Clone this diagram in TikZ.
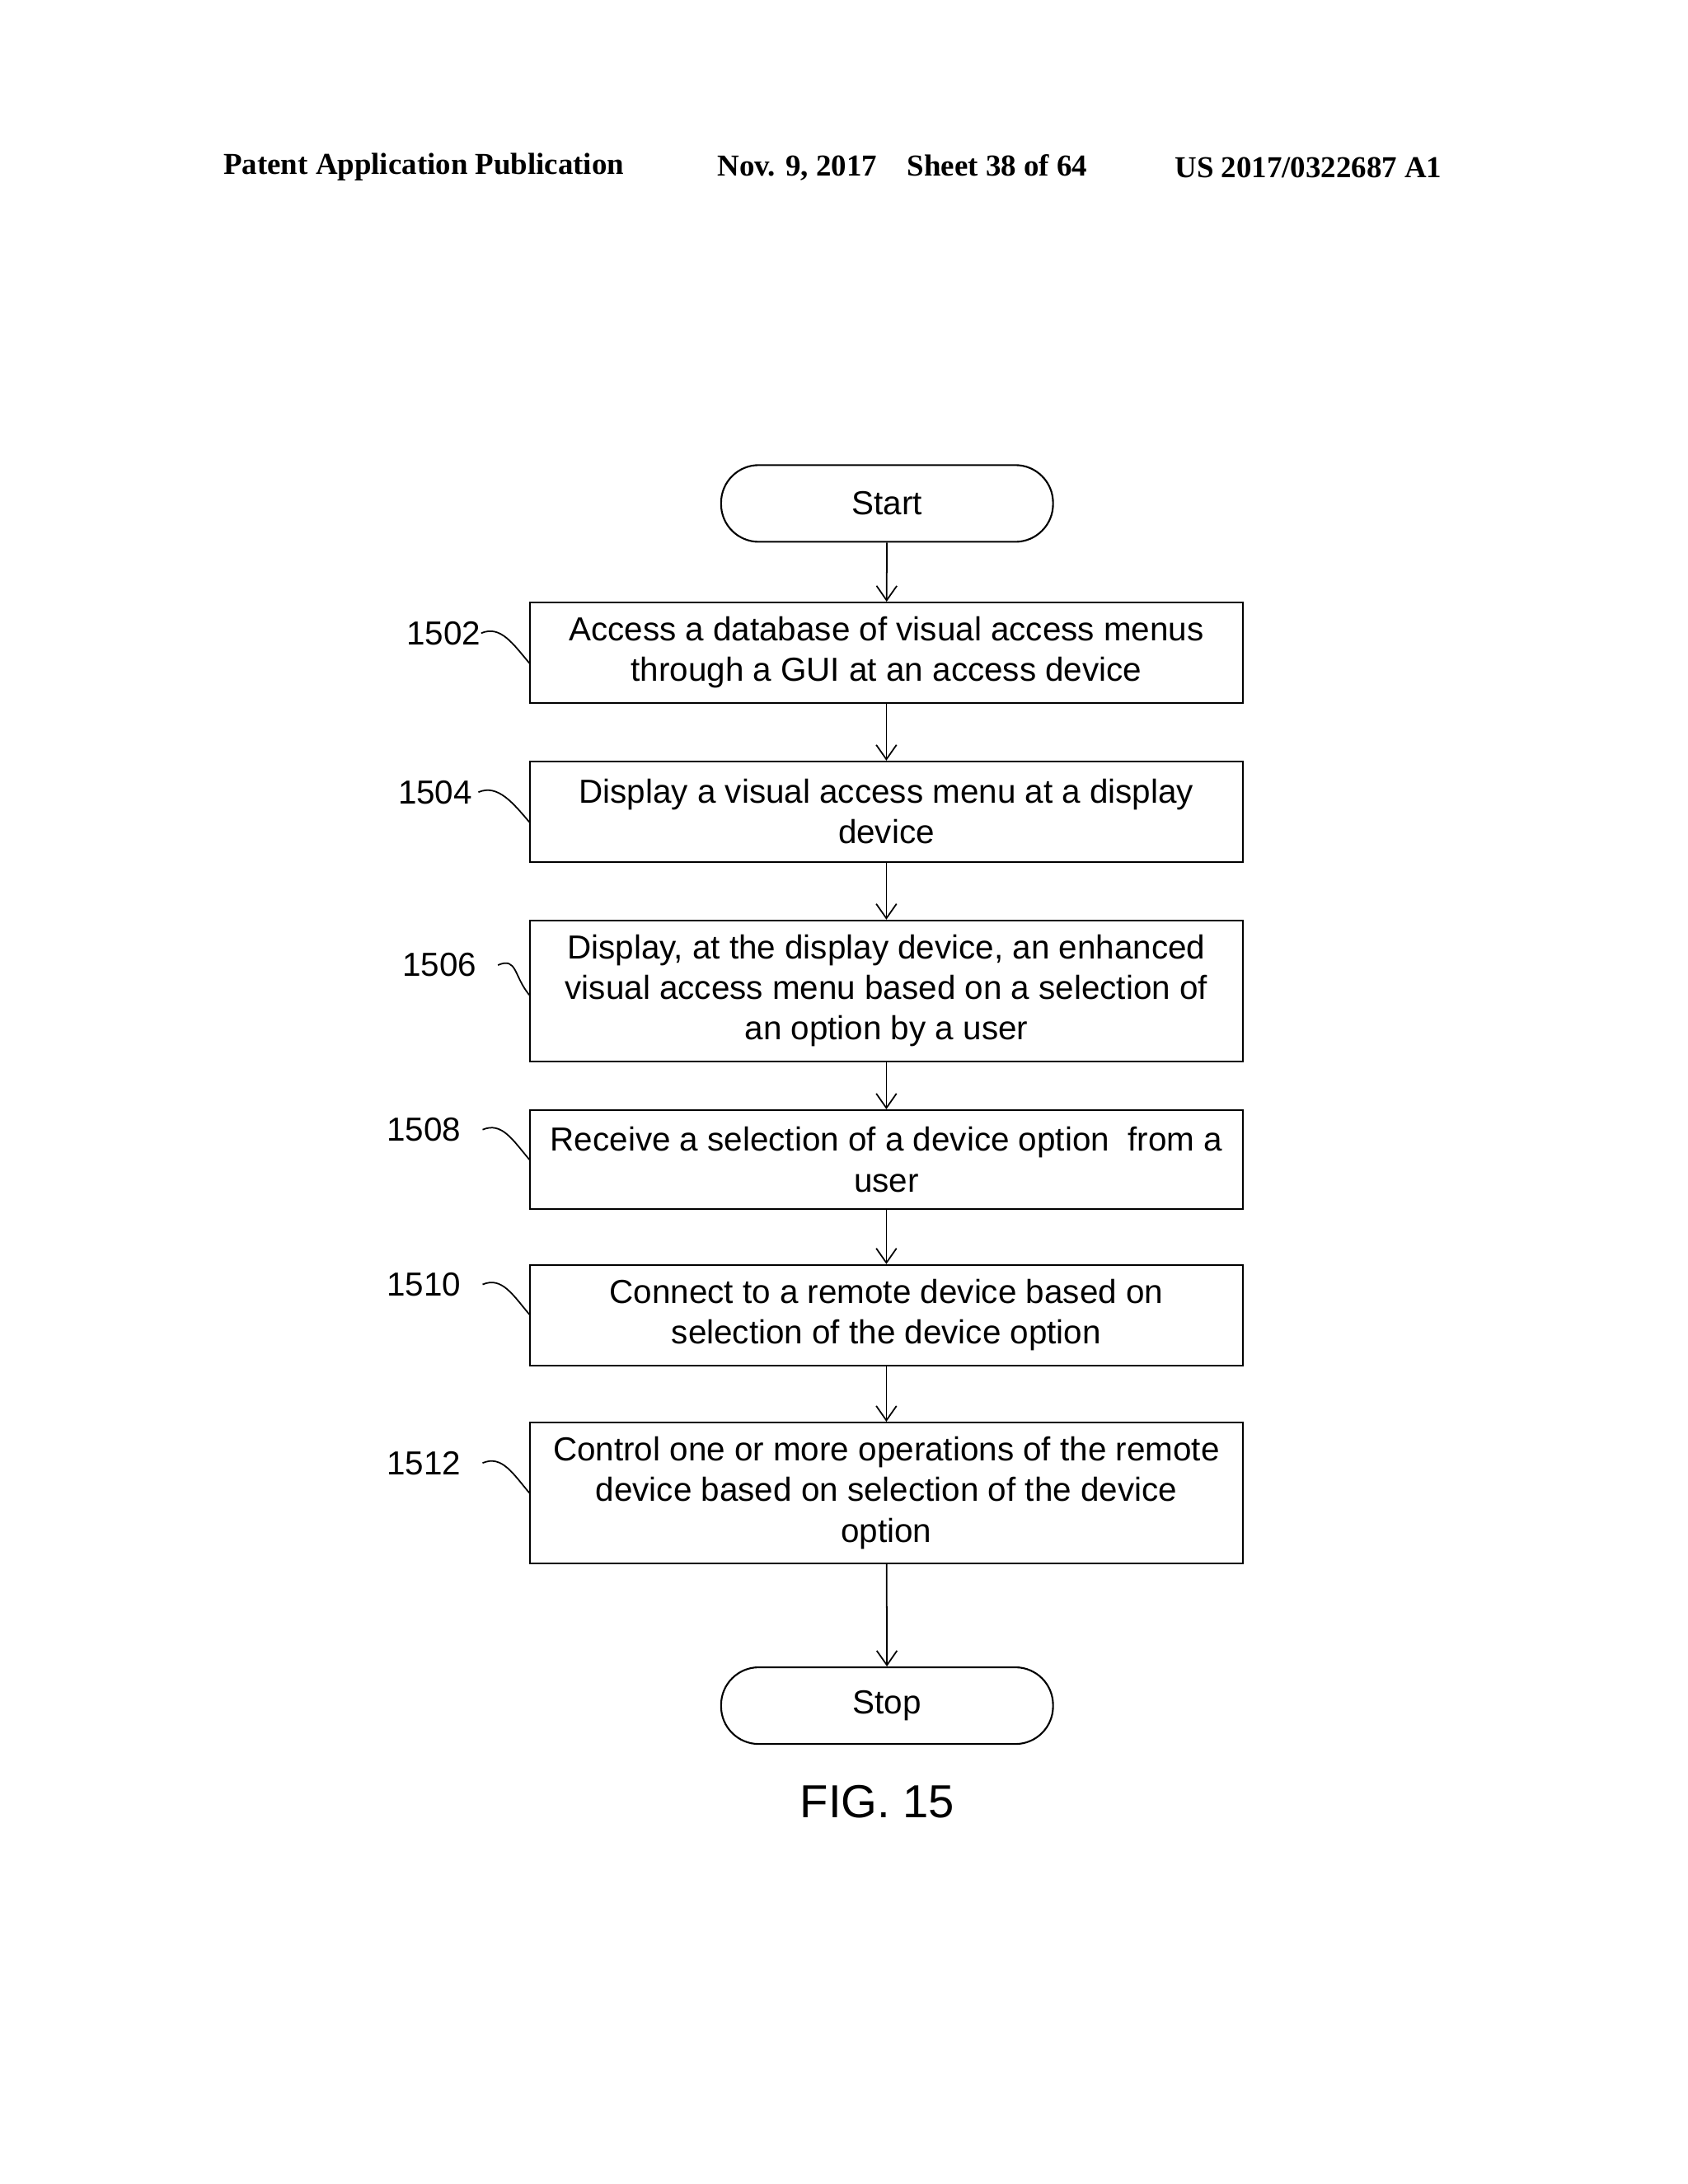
\documentclass[tikz,border=0pt]{standalone}
\usepackage{fontspec}
\setmainfont{Liberation Sans}
\newfontfamily\hdr{Liberation Serif}
\usetikzlibrary{arrows.meta,calc}
\begin{document}
\begin{tikzpicture}[x=0.16926mm,y=-0.16926mm,
 box/.style={draw,line width=0.6pt,minimum width=511*0.16926mm,align=center,font=\fontsize{11.5}{14}\selectfont,inner sep=0pt},
 term/.style={draw,line width=0.6pt,rounded corners=27*0.16926mm,minimum width=238*0.16926mm,minimum height=55*0.16926mm,font=\fontsize{11.5}{14}\selectfont},
 arr/.style={-{Straight Barb[length=5pt,width=7pt]},line width=0.5pt},
 lab/.style={font=\fontsize{11.5}{14}\selectfont},
 sq/.style={line width=0.5pt}]
\useasboundingbox (0,0) rectangle (1210,1566);
\node[font=\hdr\bfseries\fontsize{10.5}{12}\selectfont,anchor=west] (h1) at (153,120) {Patent Application Publication};
\node[font=\hdr\bfseries\fontsize{10.5}{12}\selectfont,anchor=west] (h2) at (507,120) {Nov. 9, 2017\quad Sheet 38 of 64};
\node[font=\hdr\bfseries\fontsize{10.5}{12}\selectfont,anchor=west] (h3) at (835,120) {US 2017/0322687 A1};
\node[term] (start) at (636,361) {Start};
\node[box,minimum height=72*0.16926mm] (b1) at (635.5,468) {Access a database of visual access menus\\through a GUI at an access device};
\node[box,minimum height=72*0.16926mm] (b2) at (635.5,582) {Display a visual access menu at a display\\device};
\node[box,minimum height=101*0.16926mm] (b3) at (635.5,710.5) {Display, at the display device, an enhanced\\visual access menu based on a selection of\\an option by a user};
\node[box,minimum height=71*0.16926mm] (b4) at (635.5,831.5) {Receive a selection of a device option\ \ from a\\user};
\node[box,minimum height=72*0.16926mm] (b5) at (635.5,943) {Connect to a remote device based on\\selection of the device option};
\node[box,minimum height=101*0.16926mm] (b6) at (635.5,1070.5) {Control one or more operations of the remote\\device based on selection of the device\\option};
\node[term] (stop) at (636,1223) {Stop};
\node[font=\fontsize{16}{18}\selectfont] (fig) at (629,1292) {FIG. 15};
\draw[arr] (start) -- (b1);
\draw[arr] (b1) -- (b2);
\draw[arr] (b2) -- (b3);
\draw[arr] (b3) -- (b4);
\draw[arr] (b4) -- (b5);
\draw[arr] (b5) -- (b6);
\draw[arr] (b6) -- (stop);
\foreach \n/\t/\lx/\ly/\sx in {l1/1502/318/454/345, l2/1504/312/568/343, l3/1506/315/692/357, l4/1508/304/810/346, l5/1510/304/921/346, l6/1512/304/1049/346}{
 \node[lab] (\n) at (\lx,\ly) {\t};
 \coordinate (\n a) at (\sx,\ly);
 \coordinate (\n b) at (380,\ly+22);
 \draw[sq] (\n a) .. controls ($(\n a)+(14,-6)$) and ($(\n b)+(-12,-14)$) .. (\n b);
}
\end{tikzpicture}
\end{document}
